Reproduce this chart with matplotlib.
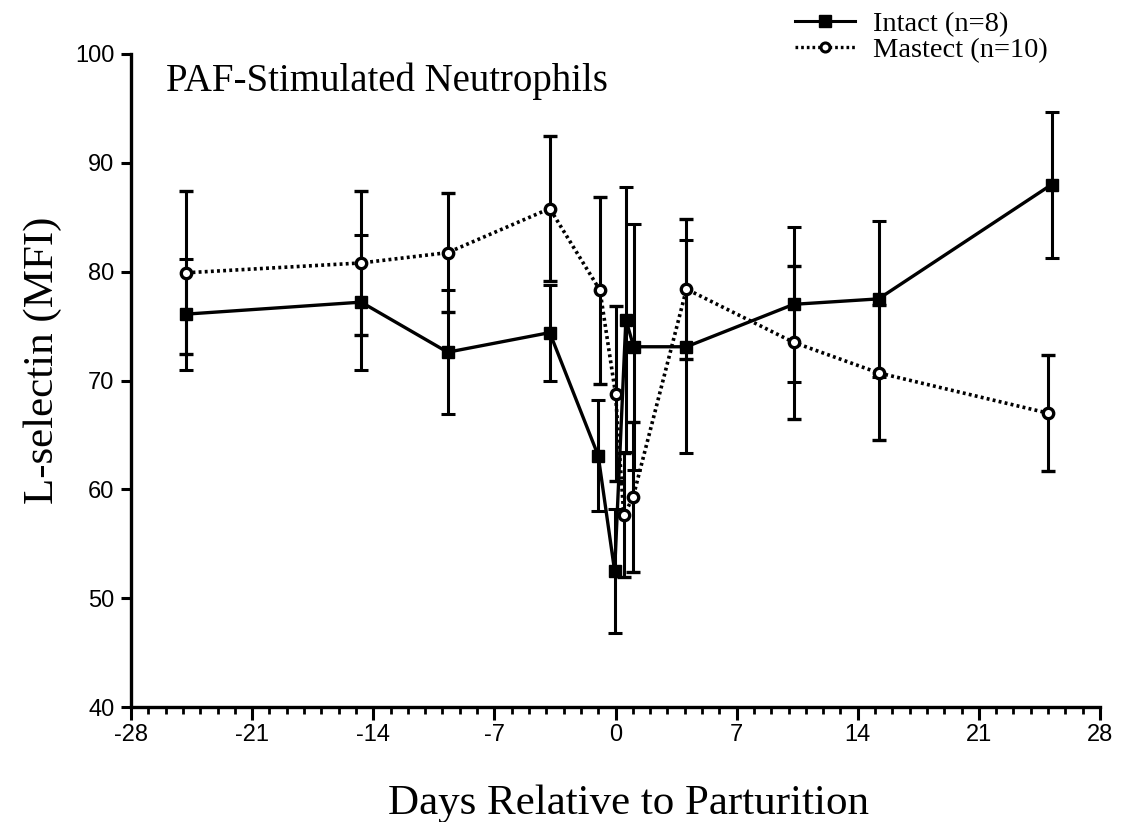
import matplotlib
matplotlib.use("Agg")
import matplotlib.pyplot as plt
from matplotlib.lines import Line2D
from matplotlib.ticker import MultipleLocator

plt.rcParams["axes.unicode_minus"] = False

# Days relative to parturition and L-selectin MFI (mean +/- SE)
intact_days = [-24.8, -14.7, -9.7, -3.8, -1.0, -0.05, 0.6, 1.05, 4.1, 10.3, 15.2, 25.2]
intact_mfi = [76.1, 77.2, 72.6, 74.4, 63.1, 52.5, 75.6, 73.1, 73.1, 77.0, 77.5, 88.0]
intact_se = [5.1, 6.2, 5.7, 4.4, 5.1, 5.7, 12.2, 11.3, 9.8, 7.1, 7.2, 6.7]

mastect_days = [-24.8, -14.7, -9.7, -3.8, -0.9, 0.0, 0.48, 1.02, 4.1, 10.3, 15.2, 25.0]
mastect_mfi = [79.9, 80.8, 81.75, 85.8, 78.3, 68.8, 57.6, 59.3, 78.4, 73.5, 70.7, 67.0]
mastect_se = [7.5, 6.6, 5.5, 6.7, 8.6, 8.0, 5.7, 6.85, 6.4, 7.0, 6.2, 5.3]

x_ticks = [-28, -21, -14, -7, 0, 7, 14, 21, 28]
y_ticks = [40, 50, 60, 70, 80, 90, 100]

serif = "Liberation Serif"
sans = "Liberation Sans"

fig = plt.figure(figsize=(11.23, 8.22), dpi=100)
ax = fig.add_axes([131 / 1123, 1 - 707 / 822, 969 / 1123, 653 / 822])

ax.errorbar(intact_days, intact_mfi, yerr=intact_se, color="black", lw=2.4,
            ls="-", marker="s", ms=8.5, mfc="black", mec="black",
            elinewidth=2.2, capsize=5, capthick=2.2, zorder=3)
ax.errorbar(mastect_days, mastect_mfi, yerr=mastect_se, color="black", lw=2.6,
            ls=(0, (0.8, 0.9)), marker="o", ms=7.5, mfc="white", mec="black",
            mew=2.4, elinewidth=2.2, capsize=5, capthick=2.2, zorder=4)

ax.set_xlim(-28, 28)
ax.set_ylim(40, 100)
ax.set_xticks(x_ticks)
ax.set_yticks(y_ticks)
ax.xaxis.set_minor_locator(MultipleLocator(1))
for s in ("top", "right"):
    ax.spines[s].set_visible(False)
for s in ("left", "bottom"):
    ax.spines[s].set_linewidth(2.4)
ax.tick_params(axis="both", which="major", direction="out", width=2.2,
               labelsize=17)
ax.tick_params(axis="x", which="major", length=9, pad=3)
ax.tick_params(axis="y", which="major", length=7, pad=5)
ax.tick_params(axis="x", which="minor", direction="out", length=5, width=2.0)
for lab in ax.get_xticklabels() + ax.get_yticklabels():
    lab.set_fontfamily(sans)

ax.set_ylabel("L-selectin (MFI)", fontsize=31, fontfamily=serif)
ax.yaxis.set_label_coords(-0.071, 0.531)
ax.set_xlabel("Days Relative to Parturition", fontsize=31, fontfamily=serif,
              labelpad=28)
ax.xaxis.label.set_x(0.513)
ax.text(0.036, 0.958, "PAF-Stimulated Neutrophils", transform=ax.transAxes,
        fontsize=28, fontfamily=serif, va="center", ha="left")

handles = [
    Line2D([], [], color="black", lw=2.2, ls="-", marker="s", ms=8,
           mfc="black", mec="black"),
    Line2D([], [], color="black", lw=2.4, ls=(0, (0.8, 0.9)), marker="o", ms=6.5,
           mfc="white", mec="black", mew=2.2),
]
fig.legend(handles, ["Intact (n=8)", "Mastect (n=10)"], loc="upper left",
           bbox_to_anchor=(795 / 1123, 1 - 11 / 822), frameon=False,
           prop={"family": serif, "size": 20.5}, handlelength=2.1,
           handletextpad=0.65, labelspacing=0.0, borderpad=0,
           borderaxespad=0)

fig.savefig("out.png", dpi=100)
